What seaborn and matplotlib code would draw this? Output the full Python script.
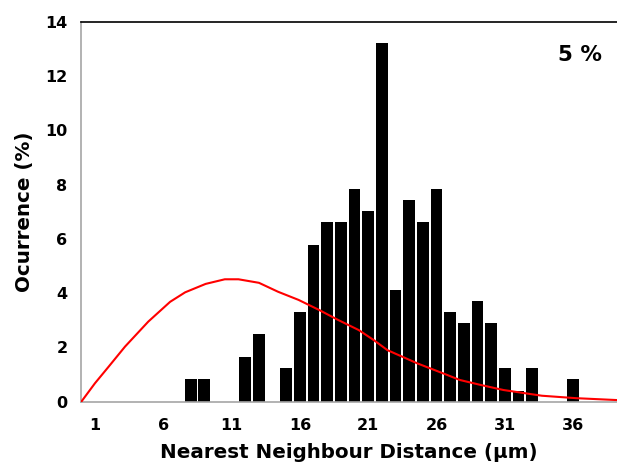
import matplotlib
matplotlib.use("Agg")
import matplotlib.pyplot as plt
import seaborn as sns
import numpy as np

# --- data -------------------------------------------------------------
bin_centers = [8, 9, 12, 13, 15, 16, 17, 18, 19, 20, 21, 22, 23, 24, 25, 26,
               27, 28, 29, 30, 31, 32, 33, 36]
occurrence = [0.83, 0.83, 1.65, 2.48, 1.24, 3.31, 5.79, 6.61, 6.61, 7.85, 7.02,
              13.22, 4.13, 7.44, 6.61, 7.85, 3.31, 2.89, 3.72, 2.89, 1.24, 0.41,
              1.24, 0.83]

curve_x = [0, 1, 2, 3.2, 4.9, 6.5, 7.6, 9.1, 10.5, 11.5, 13, 14.4, 15.9, 17.4,
           18.8, 20.3, 21.4, 22.4, 24.6, 26.8, 27.7, 29.2, 30.9, 33.7, 36.2, 39.2]
curve_y = [0, 0.68, 1.29, 2.03, 2.95, 3.68, 4.03, 4.34, 4.51, 4.51, 4.38, 4.05,
           3.75, 3.38, 3.01, 2.64, 2.27, 1.9, 1.41, 0.98, 0.8, 0.62, 0.43, 0.22,
           0.13, 0.06]

x_ticks = [1, 6, 11, 16, 21, 26, 31, 36]
y_ticks = [0, 2, 4, 6, 8, 10, 12, 14]
label_text = "5 %"

# --- figure -----------------------------------------------------------
sns.set_style("white")
plt.rcParams['font.family'] = ['DejaVu Sans']
plt.rcParams['font.weight'] = 'bold'
plt.rcParams['text.color'] = 'black'
plt.rcParams['axes.labelcolor'] = 'black'
plt.rcParams['xtick.labelcolor'] = 'black'
plt.rcParams['ytick.labelcolor'] = 'black'

fig = plt.figure(figsize=(6.17, 4.69), dpi=100)
ax = fig.add_axes([81.3 / 617, 1 - 401.7 / 469, 1 - 81.3 / 617, (401.7 - 21.7) / 469])

sns.barplot(x=bin_centers, y=occurrence, native_scale=True, width=0.86,
            color="black", saturation=1, edgecolor="none", ax=ax)
sns.lineplot(x=curve_x, y=curve_y, color="#ff0000", linewidth=1.5, ax=ax,
             zorder=5)

ax.set_xlim(0, 39.2)
ax.set_ylim(0, 14)
ax.set_xticks(x_ticks)
ax.set_xticklabels([str(t) for t in x_ticks])
ax.set_yticks(y_ticks)
ax.set_yticklabels([str(t) for t in y_ticks])

ax.tick_params(axis='x', direction='in', length=5, width=1.2, color='#c8c8c8',
               labelsize=11.5, pad=12, labelcolor='black')
ax.tick_params(axis='y', length=0, labelsize=11.5, pad=10, labelcolor='black')
for lbl in ax.get_xticklabels() + ax.get_yticklabels():
    lbl.set_fontweight('bold')

for side in ['left', 'bottom']:
    ax.spines[side].set_color('#a6a6a6')
    ax.spines[side].set_linewidth(1.2)
ax.spines['top'].set_color('black')
ax.spines['top'].set_linewidth(1.2)
ax.spines['right'].set_visible(False)

ax.set_xlabel("Nearest Neighbour Distance (µm)", fontsize=14.3, fontweight='bold',
              labelpad=7, color='black')
ax.set_ylabel("Ocurrence (%)", fontsize=14.3, fontweight='bold', labelpad=8,
              color='black')

ax.text(580 / 617, 1 - 55 / 469, label_text, transform=fig.transFigure,
        ha='center', va='center', fontsize=15.5, fontweight='bold', color='black')

fig.savefig("out.png", dpi=100)
